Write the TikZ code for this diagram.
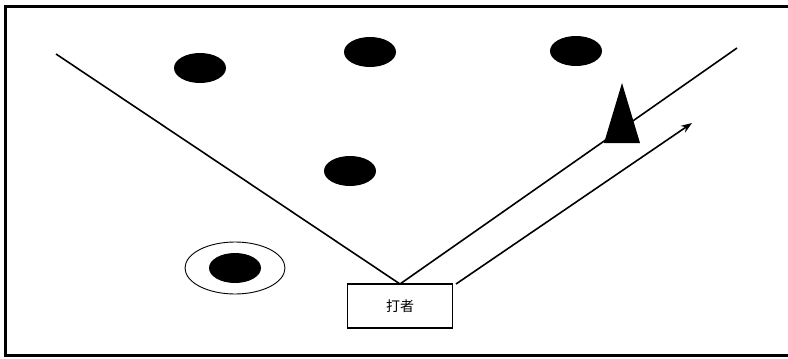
\documentclass[tikz,border=0pt]{standalone}
\usepackage{fontspec}
\newfontfamily\cjk{Noto Sans CJK SC}
\usetikzlibrary{arrows.meta}
\begin{document}
\begin{tikzpicture}[x=1pt,y=-1pt,
  player/.style={fill=black,draw=none},
  fieldline/.style={line width=1.6pt},
  batterbox/.style={draw,line width=1.4pt,minimum width=105pt,minimum height=44pt,inner sep=0pt,font=\cjk\fontsize{14}{16}\selectfont},
]
\useasboundingbox (0,0) rectangle (788,359);
\fill[white] (0,0) rectangle (788,359);
% frame
\draw[line width=3pt] (5,357) -- (5,6) -- (790,6);
\draw[line width=3pt] (5,355) -- (790,355);
% batter box
\node[batterbox] (bat) at (400,306) {打者};
\coordinate (apex) at (400,284);
\coordinate (lend) at (56,54);
\coordinate (rend) at (737,48);
\draw[fieldline] (lend) -- (apex) -- (rend);
% arrow
\coordinate (astart) at (456,284);
\coordinate (aend) at (692,123);
\draw[fieldline,-{Stealth[length=11pt,width=8pt]}] (astart) -- (aend);
% cone
\fill (622,83) -- (640,143) -- (604,143) -- cycle;
% players
\fill[player] (200,68) ellipse [x radius=26, y radius=15];
\fill[player] (370,52) ellipse [x radius=26, y radius=15];
\fill[player] (576,51) ellipse [x radius=26, y radius=15];
\fill[player] (350,171) ellipse [x radius=26, y radius=15];
\fill[player] (235,268) ellipse [x radius=26, y radius=15];
\draw[line width=0.9pt] (235,268) ellipse [x radius=50, y radius=26];
\end{tikzpicture}
\end{document}
